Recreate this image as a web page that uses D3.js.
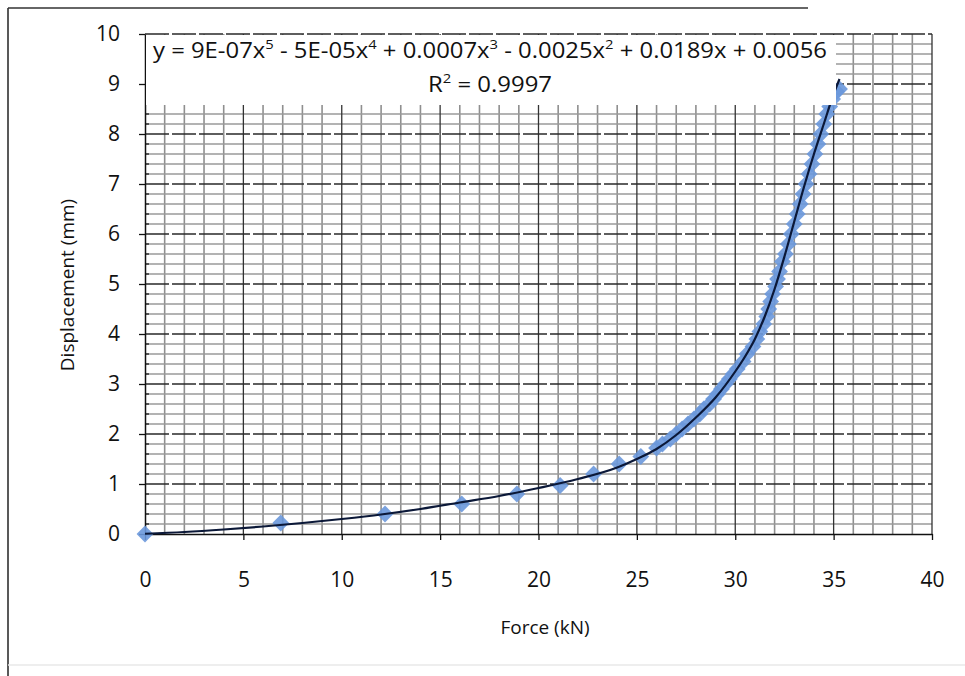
<!DOCTYPE html>
<html>
<head>
<meta charset="utf-8">
<script src="https://cdn.jsdelivr.net/npm/d3@7"></script>
<style>
  body { margin: 0; background: #fff; }
  svg { display: block; font-family: "Open Sans", "Noto Sans", sans-serif; }
</style>
</head>
<body>
<div id="chart"></div>
<script>
// measured points (Force kN, Displacement mm)
const forceData = [0, 6.9, 12.2, 16.1, 18.9, 21.1, 22.8, 24.1, 25.2, 26.0, 26.3, 26.7, 27.0, 27.3, 27.6, 27.9,
  28.2, 28.4, 28.7, 28.9, 29.1, 29.3, 29.5, 29.7, 29.9, 30.1, 30.4, 30.6, 30.9, 31.1, 31.25, 31.45, 31.6,
  31.7, 31.8, 31.9, 32.05, 32.15, 32.25, 32.4, 32.55, 32.7, 32.85, 33.0, 33.15, 33.3, 33.45, 33.6, 33.75,
  33.9, 34.05, 34.2, 34.35, 34.5, 34.65, 34.8, 34.95, 35.15, 35.3];
const dispData = [0, 0.22, 0.4, 0.6, 0.8, 0.97, 1.2, 1.4, 1.55, 1.72, 1.8, 1.9, 2.0, 2.1, 2.2, 2.3,
  2.4, 2.5, 2.6, 2.7, 2.8, 2.9, 3.0, 3.1, 3.2, 3.3, 3.45, 3.6, 3.75, 3.9, 4.05, 4.2, 4.35,
  4.5, 4.65, 4.8, 4.95, 5.1, 5.25, 5.45, 5.6, 5.8, 6.0, 6.2, 6.4, 6.6, 6.8, 7.0, 7.2,
  7.4, 7.6, 7.8, 8.0, 8.2, 8.4, 8.55, 8.7, 8.85, 8.9];

// polynomial trendline
const trendX = [0, 2, 4, 6, 8, 10, 12, 14, 16, 18, 20, 22, 24, 25, 26, 27, 28, 29, 30, 30.5, 31, 31.5, 32, 32.5, 33, 33.5, 34, 34.5, 35, 35.3];
const trendY = [0.005, 0.04, 0.09, 0.15, 0.22, 0.3, 0.39, 0.5, 0.63, 0.76, 0.92, 1.1, 1.33, 1.5, 1.7, 1.98, 2.33, 2.73, 3.25, 3.55, 3.9, 4.35, 4.9, 5.55, 6.25, 6.95, 7.6, 8.2, 8.8, 9.1];

const xTicks = [0, 5, 10, 15, 20, 25, 30, 35, 40];
const yTicks = [0, 1, 2, 3, 4, 5, 6, 7, 8, 9, 10];
const eqLine1 = [["y = 9E-07x", ""], ["5", "sup"], [" - 5E-05x", ""], ["4", "sup"], [" + 0.0007x", ""], ["3", "sup"],
  [" - 0.0025x", ""], ["2", "sup"], [" + 0.0189x + 0.0056", ""]];
const eqLine2 = [["R", ""], ["2", "sup"], [" = 0.9997", ""]];

const W = 965, H = 676;
const svg = d3.select("#chart").append("svg").attr("width", W).attr("height", H);

const x = d3.scaleLinear().domain([0, 40]).range([145, 932]);
const y = d3.scaleLinear().domain([0, 10]).range([534, 34]);

// outer chart border (scanned)
svg.append("line").attr("x1", 8).attr("x2", 8).attr("y1", 8).attr("y2", H).attr("stroke", "#222").attr("stroke-width", 1.5);
svg.append("line").attr("x1", 8).attr("x2", 808).attr("y1", 8).attr("y2", 8).attr("stroke", "#333").attr("stroke-width", 1.5);
svg.append("line").attr("x1", 8).attr("x2", W).attr("y1", 665).attr("y2", 665).attr("stroke", "#e8e8e8").attr("stroke-width", 1.5);

// grid
const grid = svg.append("g");
const minorX = d3.range(1, 40).filter(d => d % 5 !== 0);
const minorY = d3.range(1, 50).filter(d => d % 5 !== 0).map(d => d / 5);
grid.selectAll(".mx").data(minorX).enter().append("line")
  .attr("x1", d => x(d)).attr("x2", d => x(d)).attr("y1", y(0)).attr("y2", y(10))
  .attr("stroke", "#8f8f8f").attr("stroke-width", 1.6);
grid.selectAll(".my").data(minorY).enter().append("line")
  .attr("x1", x(0)).attr("x2", x(40)).attr("y1", d => y(d)).attr("y2", d => y(d))
  .attr("stroke", "#9a9a9a").attr("stroke-width", 1.6);
grid.selectAll(".Mx").data(xTicks.slice(1)).enter().append("line")
  .attr("x1", d => x(d)).attr("x2", d => x(d)).attr("y1", y(0)).attr("y2", y(10))
  .attr("stroke", "#333").attr("stroke-width", 1.3);
grid.selectAll(".My").data(yTicks.slice(1)).enter().append("line")
  .attr("x1", x(0)).attr("x2", x(40)).attr("y1", d => y(d)).attr("y2", d => y(d))
  .attr("stroke", "#2a2a2a").attr("stroke-width", 1.4).attr("stroke-dasharray", "24,3");

// axes
const yAxis = svg.append("g").attr("transform", `translate(${x(0)},0)`)
  .call(d3.axisLeft(y).tickValues(yTicks).tickSize(6).tickPadding(19).tickSizeOuter(0));
const xAxis = svg.append("g").attr("transform", `translate(0,${y(0)})`)
  .call(d3.axisBottom(x).tickValues(xTicks).tickSize(6).tickPadding(32).tickSizeOuter(0));
[xAxis, yAxis].forEach(a => {
  a.select(".domain").attr("stroke", "#111").attr("stroke-width", 1.5);
  a.selectAll(".tick line").attr("stroke", "#111").attr("stroke-width", 1.3);
  a.selectAll("text").attr("font-size", 21).attr("fill", "#111").attr("font-family", "Open Sans, sans-serif");
});
// minor inside ticks on the y axis
svg.append("g").selectAll("line").data(minorY).enter().append("line")
  .attr("x1", x(0)).attr("x2", x(0) + 4).attr("y1", d => y(d)).attr("y2", d => y(d))
  .attr("stroke", "#111").attr("stroke-width", 1.2);

// data markers
const pts = forceData.map((f, i) => ({ f: f, d: dispData[i] }));
svg.append("g").selectAll("path").data(pts).enter().append("path")
  .attr("d", d3.symbol().type(d3.symbolDiamond2).size(180))
  .attr("transform", d => `translate(${x(d.f)},${y(d.d)})`)
  .attr("fill", "#6a98dc").attr("fill-opacity", 0.9);

// trendline
const trend = trendX.map((f, i) => [f, trendY[i]]);
svg.append("path").datum(trend)
  .attr("d", d3.line().x(d => x(d[0])).y(d => y(d[1])).curve(d3.curveMonotoneX))
  .attr("fill", "none").attr("stroke", "#0b1838").attr("stroke-width", 2.2);

// equation label with white background
svg.append("rect").attr("x", x(0) + 1).attr("y", y(10) + 1).attr("width", 836 - x(0) - 1).attr("height", 70).attr("fill", "#fff");
function eqText(parts, cx, by, len) {
  const t = svg.append("text").attr("x", cx).attr("y", by).attr("text-anchor", "middle")
    .attr("font-size", 21).attr("fill", "#111");
  parts.forEach(p => {
    const s = t.append("tspan").text(p[0]);
    if (p[1] === "sup") s.attr("font-size", 13).attr("baseline-shift", "super");
  });
  if (len) t.attr("textLength", len).attr("lengthAdjust", "spacingAndGlyphs");
  return t;
}
eqText(eqLine1, 490, 58, 674);
eqText(eqLine2, 490, 92, 124);

// axis titles
svg.append("text").attr("x", 545).attr("y", 634).attr("text-anchor", "middle")
  .attr("font-size", 19).attr("fill", "#111").text("Force (kN)");
svg.append("text").attr("transform", "translate(74,285) rotate(-90)").attr("text-anchor", "middle")
  .attr("font-size", 19).attr("fill", "#111").text("Displacement (mm)");
</script>
</body>
</html>
